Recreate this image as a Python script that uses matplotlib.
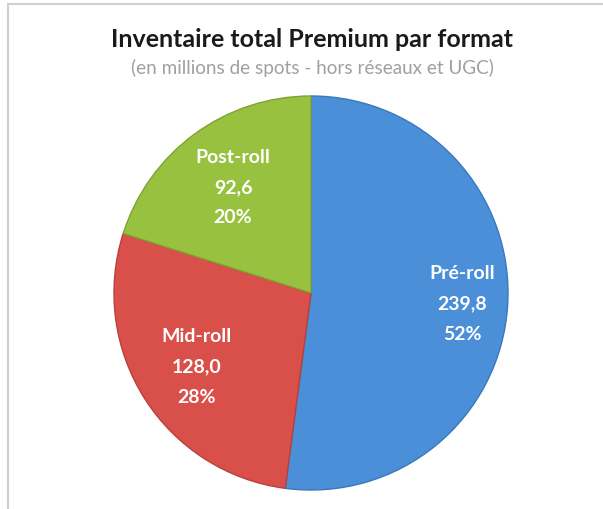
import numpy as np
import matplotlib.pyplot as plt
from matplotlib.patches import Rectangle

# data
formats = ['Pré-roll', 'Mid-roll', 'Post-roll']
spots = [239.8, 128.0, 92.6]          # millions de spots
colors = ['#4a8fd8', '#d9504a', '#98c140']
edges = ['#3a78bd', '#b8403b', '#7fa332']
label_dist = [0.77, 0.69, 0.67]

total = sum(spots)
labels = ['%s\n%s\n%d%%' % (f, ('%.1f' % v).replace('.', ','), round(100 * v / total))
          for f, v in zip(formats, spots)]

fig = plt.figure(figsize=(6.03, 5.10), dpi=100)
fig.patch.set_facecolor('white')

# light frame (only top and left visible, the rest is cropped)
fig.add_artist(Rectangle((8 / 603, -0.05), 1.0, 1 - 5 / 510 + 0.05,
                         transform=fig.transFigure, fill=False,
                         edgecolor='#d0d0d0', linewidth=1.5))

fig.text(0.518, 1 - 40 / 510, 'Inventaire total Premium par format',
         ha='center', va='center', fontsize=18, fontweight='bold',
         family='Lato', color='#1a1a1a')
fig.text(0.518, 1 - 68 / 510, '(en millions de spots - hors réseaux et UGC)',
         ha='center', va='center', fontsize=13.6, family='Lato',
         color='#a0a0a0')

ax = fig.add_axes([113 / 603, 18 / 510, 396 / 603, 396 / 510])
wedges, texts = ax.pie(spots, labels=labels, colors=colors, startangle=90,
                       counterclock=False, labeldistance=0.72,
                       wedgeprops=dict(linewidth=1.0),
                       textprops=dict(color='white', fontsize=14,
                                      fontweight='bold', family='Lato',
                                      ha='center', va='center',
                                      linespacing=1.95))
for w, ec, t, d in zip(wedges, edges, texts, label_dist):
    w.set_edgecolor(ec)
    ang = np.deg2rad((w.theta1 + w.theta2) / 2)
    t.set_position((d * np.cos(ang), d * np.sin(ang)))
ax.set_xlim(-1.005, 1.005)
ax.set_ylim(-1.005, 1.005)

fig.savefig('out.png', dpi=100)
